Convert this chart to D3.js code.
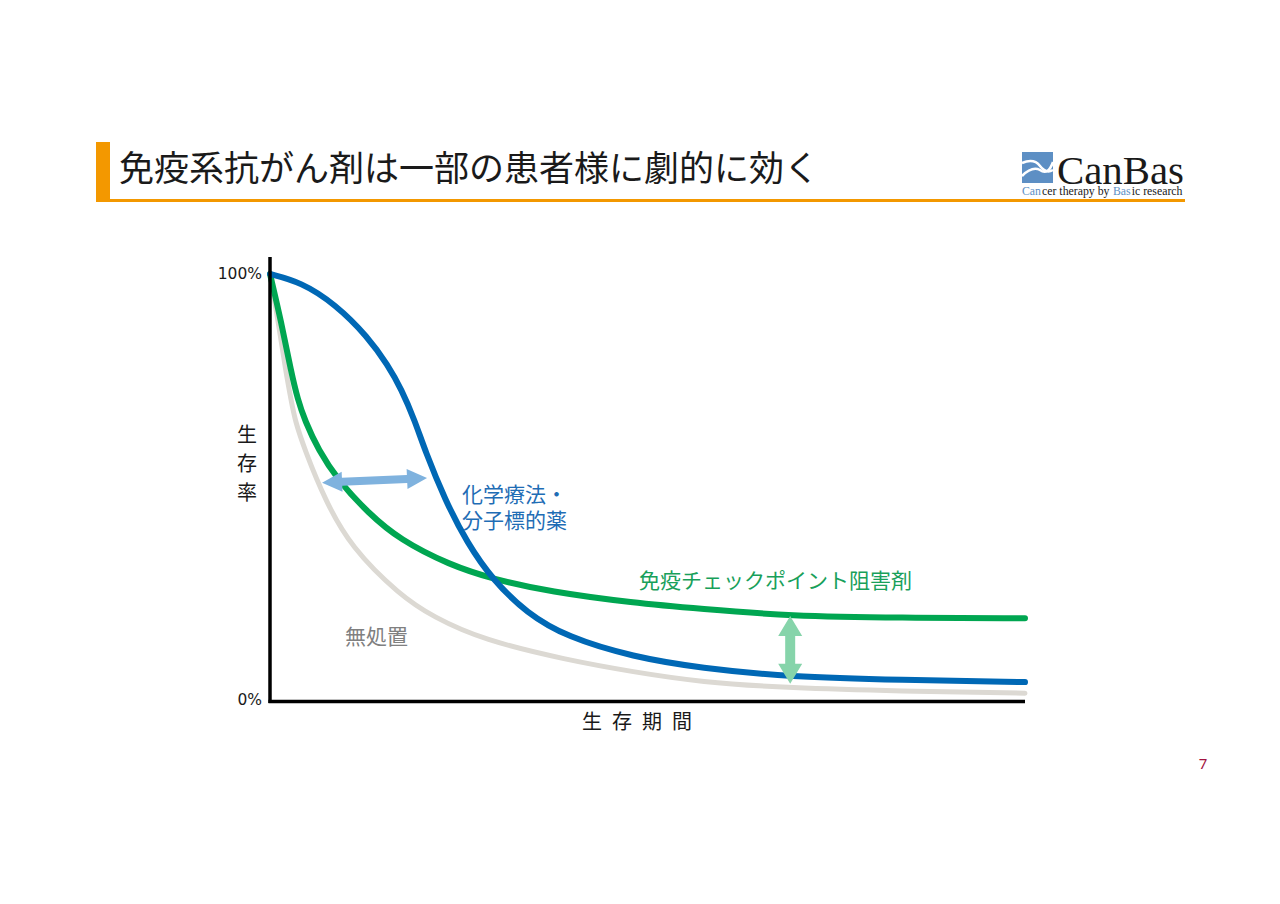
<!DOCTYPE html>
<html>
<head>
<meta charset="utf-8">
<script src="https://cdn.jsdelivr.net/npm/d3@7"></script>
<style>
  body { margin: 0; background: #fff; }
  svg { display: block; font-family: "Noto Sans CJK JP", "Noto Sans", sans-serif; }
</style>
</head>
<body>
<svg id="chart" width="1280" height="904"></svg>
<script>
// survival curves, x = time (0-100), y = survival %
var chemoX  = [0, 4.1, 8.6, 13.0, 15.6, 17.4, 19.2, 20.5, 23.2, 26.1, 29.5, 34.0, 39.3, 48.1, 57.0, 68.9, 83.4, 100];
var chemoY  = [100, 98.1, 93.0, 85.2, 78.6, 73.0, 65.5, 58.7, 46.9, 36.9, 28.2, 20.4, 14.8, 10.1, 7.5, 5.4, 4.7, 4.2];

var immuneX = [0, 1.5, 2.8, 3.7, 4.6, 6.4, 9.0, 13.0, 17.2, 23.8, 29.5, 37.1, 48.1, 57.0, 68.9, 83.4, 100];
var immuneY = [100, 88.7, 77.0, 70.4, 65.7, 58.7, 51.6, 43.9, 37.6, 31.7, 28.4, 25.4, 22.8, 21.4, 19.7, 19.3, 19.2];

var noneX   = [0, 1.1, 2.1, 2.8, 3.3, 4.6, 7.3, 10.7, 17.2, 21.6, 28.2, 39.3, 48.1, 57.0, 68.9, 83.4, 100];
var noneY   = [100, 88.7, 77.0, 70.4, 65.7, 58.7, 46.9, 35.9, 24.6, 19.5, 14.1, 9.4, 6.6, 4.2, 2.8, 2.1, 1.6];

var yTicks = [0, 100];
var yLabel = ["生", "存", "率"];
var xLabel = "生存期間";

// annotation arrows [x1, y1, x2, y2] in data units
var gapArrowTime = [6.9, 51.0, 20.8, 52.1];
var gapArrowRate = [68.9, 19.7, 68.9, 3.8];

var svg = d3.select("#chart");

// ---- header ----
svg.append("rect").attr("x", 96).attr("y", 142).attr("width", 14).attr("height", 60).attr("fill", "#f39800");
svg.append("rect").attr("x", 96).attr("y", 199).attr("width", 1089).attr("height", 3).attr("fill", "#f39800");
svg.append("text")
    .attr("x", 119).attr("y", 181)
    .attr("font-size", 35).attr("fill", "#1a1a1a")
    .text("免疫系抗がん剤は一部の患者様に劇的に効く");

// logo
var logo = svg.append("g");
logo.append("rect").attr("x", 1022).attr("y", 152).attr("width", 31).attr("height", 31).attr("fill", "#5d8fc4");
logo.append("path").attr("d", "M1022,163 Q1034,158 1040,166 Q1046,174 1053,170")
    .attr("fill", "none").attr("stroke", "#fff").attr("stroke-width", 2.5);
logo.append("path").attr("d", "M1022,176 Q1032,166 1040,170 Q1048,176 1053,162")
    .attr("fill", "none").attr("stroke", "#fff").attr("stroke-width", 2.5);
logo.append("text").attr("x", 1057).attr("y", 184)
    .attr("font-family", "Liberation Serif, DejaVu Serif, serif")
    .attr("font-size", 40).attr("fill", "#1a1a1a")
    .attr("textLength", 127).attr("lengthAdjust", "spacingAndGlyphs")
    .text("CanBas");

// subtitle pieces laid out one after another
var subParts = [
    {t: "Can", c: "#5d8fc4"}, {t: "cer therapy by", c: "#1a1a1a"},
    {t: "Bas", c: "#5d8fc4"}, {t: "ic research", c: "#1a1a1a"}
];
var subGaps = [0, 1, 3.5, 1];
var cursor = 1022;
subParts.forEach(function (p, i) {
    cursor += subGaps[i];
    var t = logo.append("text").attr("x", cursor).attr("y", 195)
        .attr("font-family", "Liberation Serif, DejaVu Serif, serif")
        .attr("font-size", 11.8).attr("fill", p.c)
        .text(p.t);
    cursor += t.node().getComputedTextLength();
});

// ---- chart ----
var x = d3.scaleLinear().domain([0, 100]).range([270, 1025]);
var y = d3.scaleLinear().domain([0, 100]).range([700, 274]);

var line = d3.line()
    .x(function (d) { return x(d[0]); })
    .y(function (d) { return y(d[1]); })
    .curve(d3.curveBasis);

function pairs(xs, ys) {
    return xs.map(function (v, i) { return [v, ys[i]]; });
}

var series = [
    {xs: noneX,   ys: noneY,   color: "#dcd9d3", width: 5},
    {xs: immuneX, ys: immuneY, color: "#00a651", width: 6},
    {xs: chemoX,  ys: chemoY,  color: "#0068b5", width: 6}
];

svg.append("g").selectAll("path")
    .data(series)
    .enter().append("path")
    .attr("d", function (d) { return line(pairs(d.xs, d.ys)); })
    .attr("fill", "none")
    .attr("stroke", function (d) { return d.color; })
    .attr("stroke-width", function (d) { return d.width; })
    .attr("stroke-linecap", "round");

// axes
var yAxis = d3.axisLeft(y).tickValues(yTicks)
    .tickFormat(function (d) { return d + "%"; })
    .tickSize(0).tickPadding(8);
var yAxisG = svg.append("g").attr("transform", "translate(270,0)").call(yAxis);
yAxisG.select(".domain").remove();
yAxisG.selectAll("text")
    .attr("font-family", "\"DejaVu Sans\", sans-serif")
    .attr("font-size", 15.5).attr("fill", "#1a1a1a");

svg.append("line")
    .attr("x1", x(0)).attr("x2", x(0))
    .attr("y1", y(104)).attr("y2", y(0) + 3)
    .attr("stroke", "#000").attr("stroke-width", 3.5);
svg.append("line")
    .attr("x1", x(0) - 1.5).attr("x2", x(100))
    .attr("y1", y(0) + 1.5).attr("y2", y(0) + 1.5)
    .attr("stroke", "#000").attr("stroke-width", 3.5);

svg.append("g").selectAll("text")
    .data(yLabel)
    .enter().append("text")
    .attr("x", 247)
    .attr("y", function (d, i) { return 442 + i * 29; })
    .attr("text-anchor", "middle")
    .attr("font-size", 20).attr("fill", "#1a1a1a")
    .text(function (d) { return d; });

svg.append("text")
    .attr("x", 582).attr("y", 729)
    .attr("font-size", 20).attr("letter-spacing", "10px").attr("fill", "#1a1a1a")
    .text(xLabel);

// ---- arrows ----
function doubleArrow(p1, p2, shaft, headLen, headW) {
    var dx = p2[0] - p1[0], dy = p2[1] - p1[1];
    var len = Math.sqrt(dx * dx + dy * dy);
    var ux = dx / len, uy = dy / len, nx = -uy, ny = ux;
    function pt(a, b) { return [p1[0] + ux * a + nx * b, p1[1] + uy * a + ny * b]; }
    return [
        pt(0, 0), pt(headLen, headW / 2), pt(headLen, shaft / 2),
        pt(len - headLen, shaft / 2), pt(len - headLen, headW / 2), pt(len, 0),
        pt(len - headLen, -headW / 2), pt(len - headLen, -shaft / 2),
        pt(headLen, -shaft / 2), pt(headLen, -headW / 2)
    ];
}

var arrows = [
    {a: gapArrowTime, color: "#7fb2de", shaft: 8, headLen: 20, headW: 20},
    {a: gapArrowRate, color: "#86d4aa", shaft: 10, headLen: 20, headW: 24}
];
svg.append("g").selectAll("polygon")
    .data(arrows)
    .enter().append("polygon")
    .attr("points", function (d) {
        var pts = doubleArrow([x(d.a[0]), y(d.a[1])], [x(d.a[2]), y(d.a[3])], d.shaft, d.headLen, d.headW);
        return pts.map(function (p) { return p.join(","); }).join(" ");
    })
    .attr("fill", function (d) { return d.color; });

// ---- series labels ----
svg.append("text").attr("x", 462).attr("y", 502)
    .attr("font-size", 21).attr("fill", "#1f6db5").text("化学療法・");
svg.append("text").attr("x", 462).attr("y", 528)
    .attr("font-size", 21).attr("fill", "#1f6db5").text("分子標的薬");
svg.append("text").attr("x", 639).attr("y", 588)
    .attr("font-size", 21).attr("fill", "#18a05a").text("免疫チェックポイント阻害剤");
svg.append("text").attr("x", 345).attr("y", 644)
    .attr("font-size", 21).attr("fill", "#808080").text("無処置");

// page number
svg.append("text").attr("x", 1203).attr("y", 769)
    .attr("text-anchor", "middle")
    .attr("font-family", "\"Noto Sans\", sans-serif")
    .attr("font-size", 15).attr("fill", "#a3123f").text("7");
</script>
</body>
</html>
